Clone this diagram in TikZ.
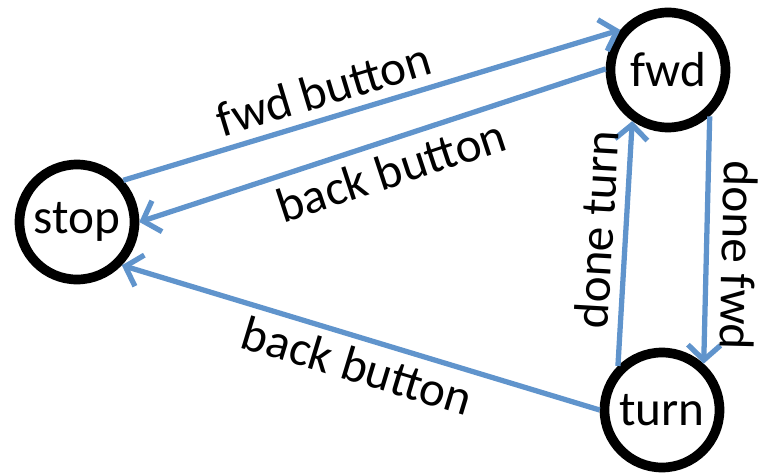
\documentclass[tikz,border=0pt]{standalone}
\usepackage{fontspec}
\setmainfont{Carlito}
\usetikzlibrary{arrows.meta}
\definecolor{edgeblue}{RGB}{96,148,204}
\tikzset{
    state/.style={circle,draw=black,line width=5.5pt,fill=white,minimum size=2.3cm,inner sep=0pt},
    trans/.style={draw=edgeblue,line width=3pt,-{Straight Barb[length=3mm,width=6.5mm,line width=3pt]}},
    lbl/.style={sloped}
}
\begin{document}
\begin{tikzpicture}[font=\fontsize{28}{32}\selectfont]
    % 画布范围
    \useasboundingbox (0,0) rectangle (15.18,-9.5);

    % 状态
    \node [state] (stop) at (1.54,-4.44) {stop};
    \node [state] (fwd) at (13.36,-1.40) {fwd};
    \node [state] (turn) at (13.24,-8.20) {turn};

    % 转移
    \draw [trans] (stop.42) -- node [lbl,pos=0.42,above=2pt] {fwd button} (fwd.140);
    \draw [trans] (fwd.179) -- node [lbl,pos=0.48,below=2pt] {back button} (stop.0);
    \draw [trans] (turn.180) -- node [lbl,pos=0.49,below=1pt] {back button} (stop.-44);
    \draw [trans] (turn.135) -- node [lbl,pos=0.55,above=2pt] {done turn} (fwd.235);
    \draw [trans] (fwd.-48) -- node [lbl,allow upside down,pos=0.56,above=4pt] {done fwd} (turn.48);
\end{tikzpicture}
\end{document}
